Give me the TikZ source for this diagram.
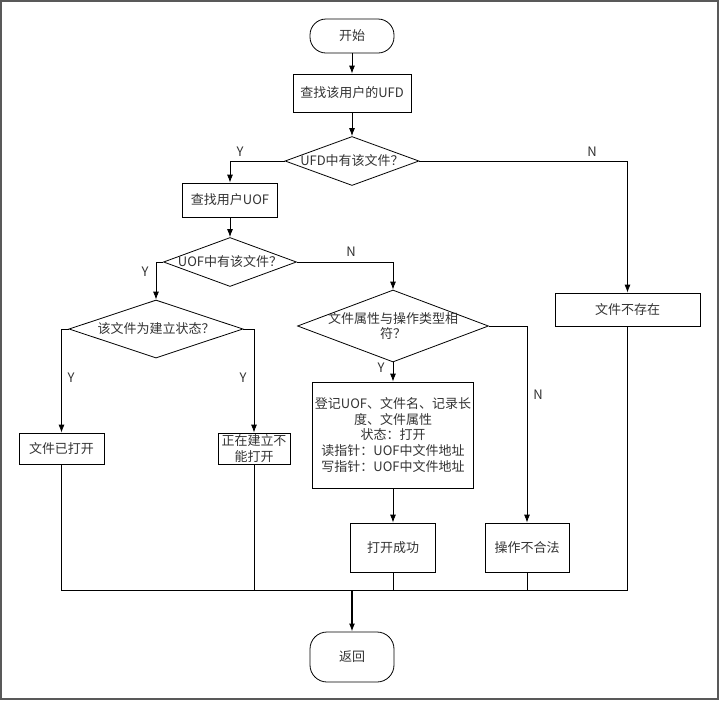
\documentclass[tikz,border=0pt]{standalone}
\usepackage{fontspec}
\setmainfont{Noto Sans CJK SC}
\usetikzlibrary{arrows.meta,shapes.geometric}

\begin{document}
\begin{tikzpicture}[x=0.75pt,y=-0.75pt,>={Latex[length=6pt,width=4.5pt]},
                    line width=0.6pt,
                    font=\fontsize{9.75}{11.8}\selectfont,text=black!80,
                    terminal/.style={draw,rectangle,inner sep=0pt},
                    process/.style={draw,rectangle,inner sep=0pt,align=center},
                    decision/.style={draw,diamond,inner sep=0pt},
                    yn/.style={inner sep=0pt},
                    frame/.style={draw=gray!70!black,line width=1.5pt}]

        \useasboundingbox (0,0) rectangle (719,701);
        \draw[frame] (1,1) rectangle (718,699);

        \node[terminal,rounded corners=12pt,minimum width=63pt,minimum height=25.5pt]
              (start) at (352,36) {开始};
        \node[process,minimum width=88.5pt,minimum height=28.5pt]
              (ufd) at (352,93) {查找该用户的UFD};
        \node[decision,minimum width=100.5pt,minimum height=36.75pt,
              label=center:UFD中有该文件？] (hasufd) at (352,161) {};
        \node[process,minimum width=71.25pt,minimum height=25.5pt]
              (uof) at (230,200) {查找用户UOF};
        \node[process,minimum width=108.75pt,minimum height=24.75pt]
              (nofile) at (627.5,309.5) {文件不存在};
        \node[decision,minimum width=99.75pt,minimum height=36.75pt,
              label=center:UOF中有该文件？] (hasuof) at (230,262) {};
        \node[decision,minimum width=130.5pt,minimum height=43.5pt,
              label=center:该文件为建立状态？] (building) at (156,329) {};
        \node[decision,minimum width=143.25pt,minimum height=54pt,
              label={[align=center]center:文件属性与操作类型相\\符？}] (match) at (393,326) {};
        \node[process,minimum width=63.75pt,minimum height=23.25pt]
              (opened) at (61.5,448.5) {文件已打开};
        \node[process,minimum width=54pt,minimum height=23.25pt]
              (busy) at (254,448.5) {正在建立不\\能打开};
        \node[process,minimum width=120.75pt,minimum height=79.5pt]
              (record) at (393,435) {登记UOF、文件名、记录长\\度、文件属性\\状态：打开\\
                                    读指针：UOF中文件地址\\写指针：UOF中文件地址};
        \node[process,minimum width=63.75pt,minimum height=36.75pt]
              (ok) at (393,547.5) {打开成功};
        \node[process,minimum width=63pt,minimum height=36.75pt]
              (illegal) at (527,547.5) {操作不合法};
        \node[terminal,rounded corners=12.75pt,minimum width=63pt,minimum height=37.5pt]
              (ret) at (352,657) {返回};
        \coordinate (join) at (352,590);

        \path[->] (start)  edge (ufd)
                  (ufd)    edge (hasufd)
                  (uof)    edge (hasuof)
                  (match)  edge (record)
                  (record) edge (ok);

        \draw[->] (hasufd.west) -| (uof.north);
        \draw[->] (hasufd.east) -| (nofile.north);
        \draw[->] (hasuof.west) -| (building.north);
        \draw[->] (hasuof.east) -| (match.north);
        \draw[->] (building.west) -| (opened.north);
        \draw[->] (building.east) -| (busy.north);
        \draw[->] (match.east) -| (illegal.north);

        \draw (opened.south) |- (nofile.south |- join) -- (nofile.south);
        \draw (busy.south) -- (busy.south |- join);
        \draw (ok.south) -- (ok.south |- join);
        \draw (illegal.south) -- (illegal.south |- join);
        \draw[->,line width=1.5pt] (join) -- (ret);

        \node[yn] (y1) at (240,152) {Y};
        \node[yn] (n1) at (592,152) {N};
        \node[yn] (y2) at (145,272) {Y};
        \node[yn] (n2) at (351,252) {N};
        \node[yn] (y3) at (71,378) {Y};
        \node[yn] (y4) at (243,378) {Y};
        \node[yn] (y5) at (381,368) {Y};
        \node[yn] (n3) at (538,395) {N};

\end{tikzpicture}
\end{document}
